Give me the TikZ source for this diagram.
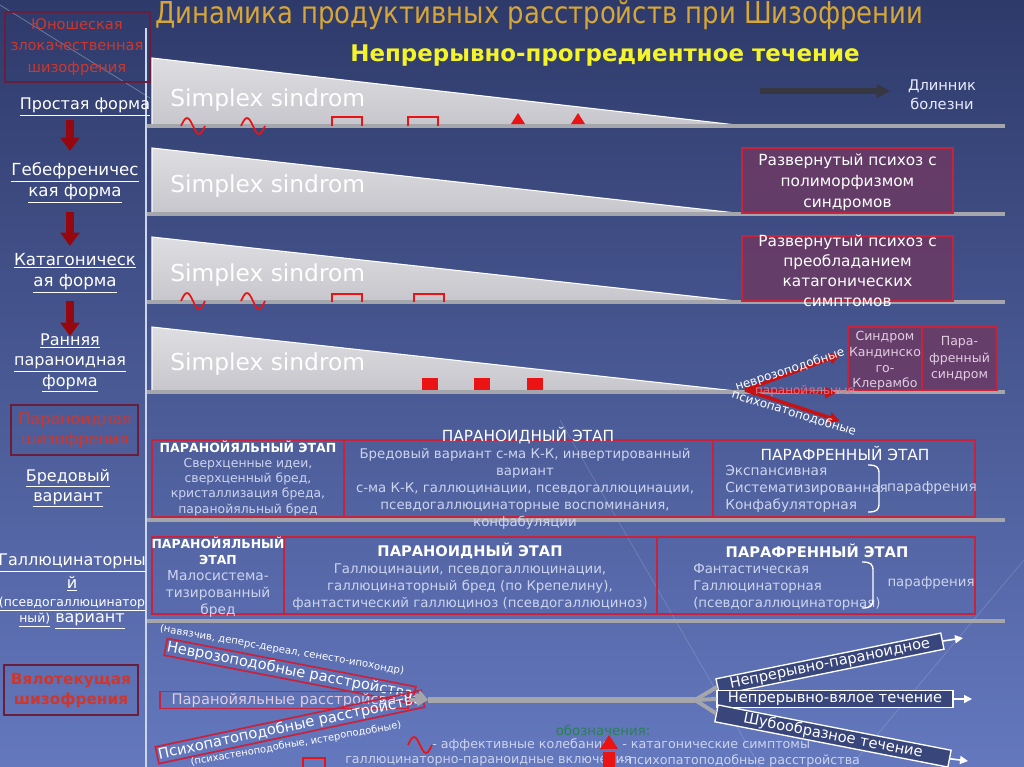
\documentclass[tikz,border=0pt]{standalone}
\usepackage{fontspec}
\setmainfont{DejaVu Sans}
\newfontfamily\condf{DejaVu Sans}[FakeStretch=0.86]
\usetikzlibrary{arrows.meta,shapes.geometric}
\definecolor{bgtop}{RGB}{46,58,106}
\definecolor{bgbot}{RGB}{100,120,190}
\definecolor{gold}{RGB}{214,166,56}
\definecolor{yel}{RGB}{244,244,40}
\definecolor{redtxt}{RGB}{205,55,45}
\definecolor{boxdark}{RGB}{105,30,60}
\definecolor{boxred}{RGB}{200,35,60}
\definecolor{purp}{RGB}{108,58,100}
\definecolor{barc}{RGB}{165,165,172}
\definecolor{arrred}{RGB}{150,8,15}
\definecolor{sym}{RGB}{235,20,20}
\definecolor{light}{RGB}{205,212,238}
\definecolor{pinkt}{RGB}{225,205,225}
\definecolor{legg}{RGB}{40,130,80}
\definecolor{darkarr}{RGB}{55,55,65}
\definecolor{wtop}{RGB}{222,222,226}
\definecolor{wbot}{RGB}{198,198,204}
\newcommand\fz[2]{\fontsize{#1}{#2}\selectfont}
\tikzset{
  txt/.style={text=white, inner sep=0pt, align=center},
  ltxt/.style={text=light, inner sep=0pt, align=center},
  wedgeshape/.style={top color=wtop, bottom color=wbot, draw=white, line width=0.8pt},
  bar/.style={draw=barc, line width=3.6pt},
  pbox/.style={draw=boxred, fill=purp, fill opacity=0.85, line width=1.3pt},
  tbox/.style={draw=boxred, line width=1.2pt},
  redbox/.style={draw=boxdark, line width=1.2pt},
  downarr/.style={draw=arrred, line width=6pt, -{Triangle[length=10pt,width=14pt]}},
  symline/.style={draw=sym, line width=1.3pt},
  redA/.style={draw=sym!85!black, line width=2.6pt, -{Triangle[length=8pt,width=8pt]}},
  grayA/.style={draw=barc, line width=3pt, -{Triangle[length=8pt,width=9pt]}},
  whiteA/.style={draw=white, line width=1.2pt, -{Triangle[length=6pt,width=6pt]}},
  slab/.style={draw=boxred, line width=1.3pt, inner sep=1pt, text=white},
  wlab/.style={draw=white, line width=1pt, fill=bgtop!80!bgbot, inner sep=1pt, text=white},
}
\newcommand\sinew[2]{\draw[symline] (#1,#2) sin ++(6,-8) cos ++(6,8) sin ++(6,8) cos ++(6,-8);}
\begin{document}
\begin{tikzpicture}[x=0.75pt,y=-0.75pt]
\useasboundingbox (0,0) rectangle (1024,767);
\shade[top color=bgtop, bottom color=bgbot] (0,0) rectangle (1024,767);
\draw[white, opacity=0.3, line width=0.6pt] (0,5) -- (150,98);
\draw[white, opacity=0.15, line width=0.6pt] (560,420) -- (760,767);
\draw[white, opacity=0.15, line width=0.6pt] (1024,560) -- (850,767);
% divider
\draw[light, line width=1.2pt] (146,28) -- (146,767);

% title
\node[anchor=west, text=gold, inner sep=0pt, font=\condf\fz{22.6}{22.6}] (title) at (155,15) {Динамика продуктивных расстройств при Шизофрении};
\node[inner sep=0pt, text=yel, font=\bfseries\fz{17.2}{17.2}] (sub) at (605,56) {Непрерывно-прогредиентное течение};

% left column
\draw[redbox] (5,12) rectangle (150,82);
\node[inner sep=0pt, align=center, text=redtxt, font=\fz{11}{16}] (yun) at (77,47) {Юношеская\\злокачественная\\шизофрения};
\node[txt, font=\fz{12}{15}] (simple) at (85,107) {\underline{Простая форма}};
\coordinate (a1s) at (70,120); \coordinate (a1e) at (70,151);
\draw[downarr] (a1s) -- (a1e);
\node[txt, font=\fz{12.5}{15.75}] (hebe) at (75,183) {\underline{Гебефреничес}\\\underline{кая форма}};
\coordinate (a2s) at (70,212); \coordinate (a2e) at (70,246);
\draw[downarr] (a2s) -- (a2e);
\node[txt, font=\fz{12.5}{15.75}] (kata) at (75,273) {\underline{Катагоническ}\\\underline{ая форма}};
\coordinate (a3s) at (70,301); \coordinate (a3e) at (70,336);
\draw[downarr] (a3s) -- (a3e);
\node[txt, font=\fz{12}{15.2}] (early) at (70,363) {\underline{Ранняя}\\\underline{параноидная}\\\underline{форма}};
\draw[redbox] (11,405) rectangle (138,455);
\node[inner sep=0pt, align=center, text=redtxt, font=\fz{12}{15}] (parsch) at (75,430) {Параноидная\\шизофрения};
\node[txt, font=\fz{12}{15}] (bred) at (68,488) {\underline{Бредовый}\\\underline{вариант}};
\node[txt, font=\fz{12}{12}] (hal1) at (72,563) {\underline{Галлюцинаторны}};
\node[txt, font=\fz{12}{12}] (hal2) at (72,584) {\underline{й}};
\node[txt, font=\fz{9.3}{10}] (hal3) at (72,604) {\underline{(псевдогаллюцинатор}};
\node[txt, font=\fz{12}{12}] (hal4) at (72,621) {{\fz{9.3}{10}\underline{ный)}} \underline{вариант}};
\draw[redbox] (4,665) rectangle (138,715);
\node[inner sep=0pt, align=center, text=redtxt, font=\bfseries\fz{11.5}{15}] (vyalo) at (71,690) {Вялотекущая\\шизофрения};

% wedges rows
\path[wedgeshape] (152,58) -- (745,126) -- (152,126) -- cycle;
\draw[bar] (147,126) -- (1005,126);
\path[wedgeshape] (152,148) -- (745,214) -- (152,214) -- cycle;
\draw[bar] (147,214) -- (1005,214);
\path[wedgeshape] (152,237) -- (745,302) -- (152,302) -- cycle;
\draw[bar] (147,302) -- (1005,302);
\path[wedgeshape] (152,327) -- (745,392) -- (152,392) -- cycle;
\draw[bar] (147,392) -- (1005,392);
\node[anchor=west, txt, font=\fz{17.5}{17.5}] (s1) at (170,100) {Simplex sindrom};
\node[anchor=west, txt, font=\fz{17.5}{17.5}] (s2) at (170,186) {Simplex sindrom};
\node[anchor=west, txt, font=\fz{17.5}{17.5}] (s3) at (170,275) {Simplex sindrom};
\node[anchor=west, txt, font=\fz{17.5}{17.5}] (s4) at (170,364) {Simplex sindrom};

% row 1 symbols
\sinew{181}{126}\sinew{241}{126}
\draw[symline] (332,126) |- (362,117) -- (362,126);
\draw[symline] (408,126) |- (438,117) -- (438,126);
\fill[sym] (511,124) -- (518,113) -- (525,124) -- cycle;
\fill[sym] (571,124) -- (578,113) -- (585,124) -- cycle;
% row 3 symbols
\sinew{181}{301}\sinew{241}{301}
\draw[symline] (332,302) |- (362,294) -- (362,302);
\draw[symline] (414,302) |- (444,294) -- (444,302);
% row 4 symbols
\fill[sym] (422,378) rectangle (438,390);
\fill[sym] (474,378) rectangle (490,390);
\fill[sym] (527,378) rectangle (543,390);

% length arrow
\coordinate (la) at (760,91); \coordinate (lb) at (890,91);
\draw[darkarr, line width=4pt, -{Triangle[length=10pt,width=10pt]}] (la) -- (lb);
\node[txt, text=white!92!blue, font=\fz{11}{14.25}] (len) at (942,95) {Длинник\\болезни};

% right boxes
\draw[pbox] (742,148) rectangle (953,213);
\node[txt, font=\fz{11.5}{15.75}] (p1) at (847.5,182) {Развернутый психоз с\\полиморфизмом\\синдромов};
\draw[pbox] (742,236) rectangle (953,301);
\node[txt, font=\fz{11.5}{15}] (p2) at (847.5,271) {Развернутый психоз с\\преобладанием\\катагонических\\симптомов};
\draw[pbox] (848,327) rectangle (922,390);
\draw[pbox] (922,327) rectangle (997,390);
\node[txt, text=pinkt, font=\fz{9.4}{11.8}] (kk) at (885,361) {Синдром\\Кандинско\\го-\\Клерамбо};
\node[txt, text=pinkt, font=\fz{9.4}{12.4}] (paraf) at (959.5,359) {Пара-\\френный\\синдром};

% row 4 red arrows
\coordinate (o4) at (745,390);
\coordinate (e4a) at (840,355); \coordinate (e4b) at (836,393); \coordinate (e4c) at (840,421);
\draw[redA] (o4) -- (e4a);
\draw[redA, {Triangle[length=8pt,width=8pt]}-{Triangle[length=8pt,width=8pt]}] (o4) -- (e4b);
\draw[redA] (o4) -- (e4c);
\node[txt, rotate=18, font=\fz{9}{9}] (nv) at (790,370) {неврозоподобные};
\node[txt, text={rgb,255:red,230;green,110;blue,135}, font=\fz{9}{9}] (pr) at (805,391) {паранойяльные};
\node[txt, rotate=-17, font=\fz{9}{9}] (ps) at (794,413) {психопатоподобные};

% table row 5
\draw[tbox] (152,440) rectangle (344,517);
\draw[tbox] (344,440) rectangle (713,517);
\draw[tbox] (713,440) rectangle (975,517);
\draw[bar] (147,520) -- (1005,520);
\node[txt, font=\bfseries\fz{9.4}{9.4}] (h51) at (248,447) {ПАРАНОЙЯЛЬНЫЙ ЭТАП};
\node[ltxt, font=\fz{9.3}{11.5}] (b51) at (248,487) {Сверхценные идеи,\\сверхценный бред,\\кристаллизация бреда,\\паранойяльный бред};
\node[txt, font=\fz{11.5}{11.5}] (h52) at (528,436) {ПАРАНОИДНЫЙ ЭТАП};
\node[ltxt, font=\fz{10}{12.75}] (b52) at (525,489) {Бредовый вариант с-ма К-К, инвертированный\\вариант\\с-ма К-К, галлюцинации, псевдогаллюцинации,\\псевдогаллюцинаторные воспоминания,\\конфабуляции};
\node[txt, font=\fz{11.5}{11.5}] (h53) at (845,453) {ПАРАФРЕННЫЙ ЭТАП};
\node[ltxt, anchor=west, align=left, font=\fz{10.3}{12.75}] (b53) at (725,489) {Экспансивная\\Систематизированная\\Конфабуляторная};
\draw[white, line width=1pt] (868,465) .. controls (877,465) and (879,467) .. (879,474) -- (879,503) .. controls (879,510) and (877,512) .. (868,512);
\node[ltxt, font=\fz{10.3}{10.3}] (pf5) at (932,488) {парафрения};

% table row 6
\draw[tbox] (152,537) rectangle (284,614);
\draw[tbox] (284,537) rectangle (657,614);
\draw[tbox] (657,537) rectangle (975,614);
\draw[bar] (147,621) -- (1005,621);
\node[txt, font=\bfseries\fz{9.3}{12}] (h61) at (218,551) {ПАРАНОЙЯЛЬНЫЙ\\ЭТАП};
\node[ltxt, font=\fz{10.3}{12.75}] (b61) at (218,594) {Малосистема-\\тизированный\\бред};
\node[txt, font=\bfseries\fz{11}{11}] (h62) at (470,551) {ПАРАНОИДНЫЙ ЭТАП};
\node[ltxt, font=\fz{10}{13}] (b62) at (470,587) {Галлюцинации, псевдогаллюцинации,\\галлюцинаторный бред (по Крепелину),\\фантастический галлюциноз (псевдогаллюциноз)};
\node[txt, font=\bfseries\fz{11}{11}] (h63) at (817,551) {ПАРАФРЕННЫЙ ЭТАП};
\node[ltxt, anchor=west, align=left, font=\fz{10}{13}] (b63) at (693,587) {Фантастическая\\Галлюцинаторная\\(псевдогаллюцинаторная)};
\draw[white, line width=1pt] (862,562) .. controls (871,562) and (873,564) .. (873,571) -- (873,599) .. controls (873,606) and (871,608) .. (862,608);
\node[ltxt, font=\fz{10}{10}] (pf6) at (931,583) {парафрения};

% bottom left slabs
\node[txt, rotate=-10, font=\fz{7.6}{7.6}] (navz) at (282,650) {(навязчив, деперс-дереал, сенесто-ипохондр)};
\node[slab, rotate=-11, minimum width=184pt, minimum height=9pt, font=\fz{11}{11}] (nb) at (290,671) {Неврозоподобные расстройства};
\node[slab, minimum width=186pt, minimum height=11pt, text=pinkt, font=\fz{11}{11}] (pb) at (284,700) {Паранойяльные расстройсва};
\node[slab, rotate=12, minimum width=184pt, minimum height=9pt, font=\fz{11}{11}] (sb) at (290,727) {Психопатоподобные расстройства};
\node[txt, rotate=10, font=\fz{7.4}{7.4}] (psih) at (296,744) {(психастеноподобные, истероподобные)};

\coordinate (conv) at (428,700);
\coordinate (split) at (695,700);
\draw[grayA] (nb.east) -- (conv);
\draw[grayA] (pb.east) -- (conv);
\draw[grayA] (sb.east) -- (conv);
\draw[barc, line width=4.5pt] (conv) -- (split);

% right slabs
\node[wlab, rotate=11.5, minimum width=172pt, minimum height=9pt, font=\fz{11}{11}] (np) at (830,664) {Непрерывно-параноидное};
\node[wlab, minimum width=177pt, minimum height=10pt, font=\fz{11}{11}] (nvt) at (835,699) {Непрерывно-вялое течение};
\node[wlab, rotate=-11, minimum width=178pt, minimum height=9pt, font=\fz{11}{11}] (sh) at (833,736) {Шубообразное течение};
\draw[barc, line width=3pt] (split) -- (np.west);
\draw[barc, line width=3pt] (split) -- (nvt.west);
\draw[barc, line width=3pt] (split) -- (sh.west);
\coordinate (npe) at (963,638); \coordinate (nve) at (972,699); \coordinate (she) at (968,761);
\draw[whiteA] (np.east) -- (npe);
\draw[whiteA] (nvt.east) -- (nve);
\draw[whiteA] (sh.east) -- (she);

% legend
\node[inner sep=0pt, text=legg, font=\fz{10}{10}] (leg) at (603,730) {обозначения:};
\sinew{408}{745}
\node[anchor=west, ltxt, font=\fz{9.5}{9.5}] (l1) at (432,745) {- аффективные колебания};
\node[anchor=west, ltxt, font=\fz{9.5}{9.5}] (l3) at (345,761) {галлюцинаторно-параноидные включения};
\draw[symline] (303,770) |- (325,758) -- (325,770);
\fill[sym] (600,749) -- (609,735) -- (618,749) -- cycle;
\fill[sym] (603,752) rectangle (615,767);
\node[anchor=west, ltxt, font=\fz{9.5}{9.5}] (l2) at (622,745) {- катагонические симптомы};
\node[anchor=west, ltxt, font=\fz{9.5}{9.5}] (l4) at (620,761) {- психопатоподобные расстройства};
\end{tikzpicture}
\end{document}
